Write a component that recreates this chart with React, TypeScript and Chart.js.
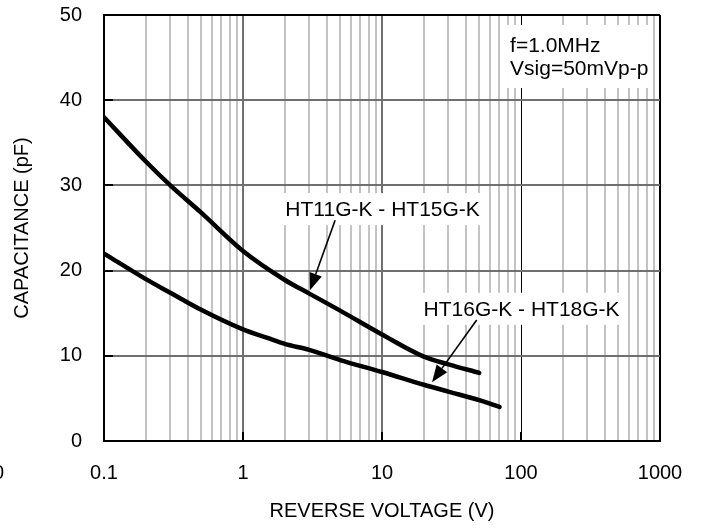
import React, { useEffect, useRef } from 'react';
import { Chart, registerables } from 'chart.js';

Chart.register(...registerables);

// ---- data ----
const xDecades = [0.1, 1, 10, 100, 1000];
const xDecadeLabels = ['0.1', '1', '10', '100', '1000'];
const xMinorSteps = [2, 3, 4, 5, 6, 7, 8, 9];
const yTickValues = [0, 10, 20, 30, 40, 50];

const upperV = [0.1, 0.2, 0.3, 0.5, 1, 2, 3, 5, 10, 20, 30, 50];
const upperC = [38, 32.8, 30, 26.8, 22.3, 18.9, 17.3, 15.3, 12.5, 9.9, 9.0, 8.0];

const lowerV = [0.1, 0.2, 0.3, 0.5, 1, 1.5, 2, 3, 5, 10, 20, 30, 50, 70];
const lowerC = [22, 19, 17.4, 15.4, 13.1, 12.1, 11.4, 10.7, 9.5, 8.1, 6.6, 5.8, 4.8, 4.0];

const upperLabel = 'HT11G-K - HT15G-K';
const lowerLabel = 'HT16G-K - HT18G-K';
const conditionLines = ['f=1.0MHz', 'Vsig=50mVp-p'];
const xTitle = 'REVERSE VOLTAGE (V)';
const yTitle = 'CAPACITANCE (pF)';
const strayLabel = '0';

// annotation anchors (data units)
const upperLabelAt = { x: 10.1, y: 27.1 };
const lowerLabelAt = { x: 101, y: 15.4 };
const conditionAt = { x: 83.4, y: 45.66 };
const upperArrow = { from: { x: 4.6, y: 25.9 }, to: { x: 3.03, y: 17.7 } };
const lowerArrow = { from: { x: 48, y: 14.2 }, to: { x: 22.9, y: 6.9 } };

const FAMILY = "'Liberation Sans', Arial, Helvetica, sans-serif";
const AXIS_FONT = { family: FAMILY, size: 20 };
const ANN_FONT = `21px ${FAMILY}`;

const allXTicks: number[] = [];
xDecades.forEach((d, i) => {
  allXTicks.push(d);
  if (i < xDecades.length - 1) xMinorSteps.forEach((m) => allXTicks.push(+(d * m).toPrecision(6)));
});

const near = (a: number, b: number) => Math.abs(a - b) / Math.abs(b || 1) < 1e-6;
const decadeIndex = (v: number) => xDecades.findIndex((d) => near(v, d));

function drawArrow(ctx: CanvasRenderingContext2D, x1: number, y1: number, x2: number, y2: number) {
  const ang = Math.atan2(y2 - y1, x2 - x1);
  const headLen = 17;
  const headW = 6.5;
  const bx = x2 - headLen * Math.cos(ang);
  const by = y2 - headLen * Math.sin(ang);
  ctx.strokeStyle = '#000';
  ctx.fillStyle = '#000';
  ctx.lineWidth = 1.6;
  ctx.beginPath();
  ctx.moveTo(x1, y1);
  ctx.lineTo(bx, by);
  ctx.stroke();
  ctx.beginPath();
  ctx.moveTo(x2, y2);
  ctx.lineTo(bx + headW * Math.sin(ang), by - headW * Math.cos(ang));
  ctx.lineTo(bx - headW * Math.sin(ang), by + headW * Math.cos(ang));
  ctx.closePath();
  ctx.fill();
}

const annotationPlugin = {
  id: 'annotations',
  beforeDatasetsDraw(chart: any) {
    const { ctx, chartArea } = chart;
    const xs = chart.scales.x;
    const ys = chart.scales.y;
    ctx.save();
    // inner tick marks
    ctx.strokeStyle = '#000';
    ctx.lineWidth = 2;
    yTickValues.slice(1, -1).forEach((v) => {
      const py = Math.round(ys.getPixelForValue(v));
      ctx.beginPath();
      ctx.moveTo(chartArea.left, py);
      ctx.lineTo(chartArea.left + 9, py);
      ctx.stroke();
    });
    xDecades.slice(1, -1).forEach((v) => {
      const px = Math.round(xs.getPixelForValue(v));
      ctx.beginPath();
      ctx.moveTo(px, chartArea.bottom);
      ctx.lineTo(px, chartArea.bottom - 9);
      ctx.stroke();
    });
    // white boxes behind texts
    ctx.font = ANN_FONT;
    ctx.fillStyle = '#fff';
    [
      { t: upperLabel, at: upperLabelAt },
      { t: lowerLabel, at: lowerLabelAt },
    ].forEach(({ t, at }) => {
      const w = ctx.measureText(t).width;
      const cx = xs.getPixelForValue(at.x);
      const cy = ys.getPixelForValue(at.y);
      ctx.fillRect(cx - w / 2 - 5, cy - 17, w + 10, 32);
    });
    const lx = xs.getPixelForValue(conditionAt.x);
    const ly = ys.getPixelForValue(conditionAt.y);
    const cw = Math.max(...conditionLines.map((l) => ctx.measureText(l).width));
    ctx.fillRect(lx - 3, ly - 27, cw + 7, 27 + 23 * (conditionLines.length - 1) + 13);
    ctx.restore();
  },
  afterDatasetsDraw(chart: any) {
    const { ctx, chartArea } = chart;
    const xs = chart.scales.x;
    const ys = chart.scales.y;
    ctx.save();
    ctx.font = ANN_FONT;
    ctx.fillStyle = '#000';
    ctx.textAlign = 'center';
    ctx.textBaseline = 'middle';
    [
      { t: upperLabel, at: upperLabelAt },
      { t: lowerLabel, at: lowerLabelAt },
    ].forEach(({ t, at }) => {
      ctx.fillText(t, xs.getPixelForValue(at.x), ys.getPixelForValue(at.y));
    });
    ctx.textAlign = 'left';
    ctx.textBaseline = 'alphabetic';
    const lx = xs.getPixelForValue(conditionAt.x);
    const ly = ys.getPixelForValue(conditionAt.y);
    conditionLines.forEach((l, i) => ctx.fillText(l, lx, ly + i * 23));
    [upperArrow, lowerArrow].forEach((a) => {
      drawArrow(
        ctx,
        xs.getPixelForValue(a.from.x),
        ys.getPixelForValue(a.from.y),
        xs.getPixelForValue(a.to.x),
        ys.getPixelForValue(a.to.y)
      );
    });
    // clipped stray label at the far left
    ctx.font = `20px ${FAMILY}`;
    ctx.fillStyle = '#000';
    ctx.textAlign = 'right';
    ctx.textBaseline = 'middle';
    ctx.fillText(strayLabel, 4, chartArea.bottom + 32);
    ctx.restore();
  },
};

export default function App() {
  const ref = useRef<HTMLCanvasElement | null>(null);

  useEffect(() => {
    document.body.style.margin = '0';
    const canvas = ref.current;
    if (!canvas) return;
    const chart = new Chart(canvas, {
      type: 'scatter',
      data: {
        datasets: [
          {
            label: upperLabel,
            data: upperV.map((v, i) => ({ x: v, y: upperC[i] })),
            showLine: true,
            borderColor: '#000',
            borderWidth: 4.5,
            pointRadius: 0,
            cubicInterpolationMode: 'monotone',
            borderCapStyle: 'round',
          },
          {
            label: lowerLabel,
            data: lowerV.map((v, i) => ({ x: v, y: lowerC[i] })),
            showLine: true,
            borderColor: '#000',
            borderWidth: 4.5,
            pointRadius: 0,
            cubicInterpolationMode: 'monotone',
            borderCapStyle: 'round',
          },
        ],
      },
      options: {
        responsive: false,
        animation: false,
        devicePixelRatio: 1,
        layout: { padding: { top: 15, right: 42, left: 0, bottom: 0 } },
        plugins: { legend: { display: false }, tooltip: { enabled: false } },
        scales: {
          x: {
            type: 'logarithmic',
            min: 0.1,
            max: 1000,
            afterBuildTicks: (s: any) => {
              s.ticks = allXTicks.map((v) => ({ value: v }));
            },
            afterFit: (s: any) => {
              s.height = 88;
              s.paddingLeft = 0;
              s.paddingRight = 0;
            },
            ticks: {
              autoSkip: false,
              maxRotation: 0,
              minRotation: 0,
              padding: 20,
              color: '#000',
              font: AXIS_FONT,
              callback: (v: any) => {
                const i = decadeIndex(Number(v));
                return i >= 0 ? xDecadeLabels[i] : '';
              },
            },
            grid: {
              drawTicks: false,
              color: (c: any) => {
                const v = c.tick ? c.tick.value : 0;
                const i = decadeIndex(v);
                if (i < 0) return '#c3c3c3';
                if (i === 0 || i >= 3) return '#000';
                return '#707070';
              },
              lineWidth: (c: any) => {
                const v = c.tick ? c.tick.value : 0;
                return decadeIndex(v) === 3 ? 1 : 2;
              },
            },
            border: { color: '#000', width: 2 },
            title: {
              display: true,
              text: xTitle,
              color: '#000',
              font: AXIS_FONT,
              padding: { top: 0, bottom: 6 },
            },
          },
          y: {
            type: 'linear',
            min: 0,
            max: 50,
            afterBuildTicks: (s: any) => {
              s.ticks = yTickValues.map((v) => ({ value: v }));
            },
            afterFit: (s: any) => {
              s.width = 104;
              s.paddingTop = 0;
              s.paddingBottom = 0;
            },
            ticks: {
              padding: 22,
              color: '#000',
              font: AXIS_FONT,
              callback: (v: any) => String(v),
            },
            grid: {
              drawTicks: false,
              color: (c: any) => {
                const v = c.tick ? c.tick.value : 0;
                return v === 0 || v === 50 ? '#000' : '#707070';
              },
              lineWidth: 2,
            },
            border: { color: '#000', width: 2 },
            title: {
              display: true,
              text: yTitle,
              color: '#000',
              font: AXIS_FONT,
              padding: { top: 10, bottom: 0 },
            },
          },
        },
      },
      plugins: [annotationPlugin],
    } as any);
    return () => chart.destroy();
  }, []);

  return (
    <div style={{ width: 702, height: 529, background: '#fff' }}>
      <canvas ref={ref} width={702} height={529} style={{ display: 'block' }} />
    </div>
  );
}
